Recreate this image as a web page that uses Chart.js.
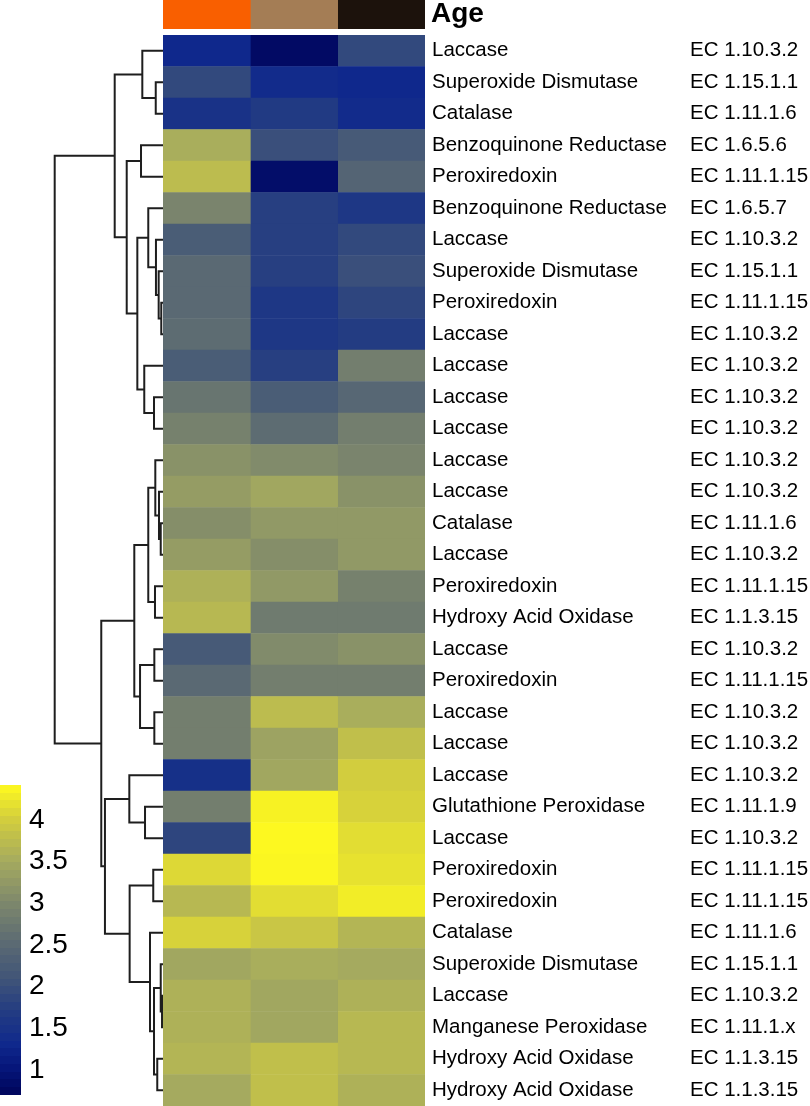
<!DOCTYPE html>
<html>
<head>
<meta charset="utf-8">
<title>Enzyme heatmap</title>
<script src="https://cdn.jsdelivr.net/npm/chart.js@4.4.1/dist/chart.umd.min.js"></script>
<style>
  html, body { margin: 0; padding: 0; background: #fff; }
  #wrap { position: relative; width: 810px; height: 1106px; overflow: hidden; }
  canvas { position: absolute; }
</style>
</head>
<body>
<div id="wrap">
  <canvas id="dendro" width="166" height="1106" style="left:0;top:0"></canvas>
  <canvas id="heat" width="647" height="1071" style="left:163px;top:35px"></canvas>
  <canvas id="age" width="647" height="35" style="left:163px;top:0"></canvas>
  <canvas id="legend" width="100" height="336" style="left:0;top:770px"></canvas>
</div>
<script>
Chart.defaults.font.family = "'Liberation Sans', Arial, sans-serif";
Chart.defaults.color = '#000';
Chart.defaults.animation = false;

// row labels, top to bottom
const enzymes = [
  'Laccase', 'Superoxide Dismutase', 'Catalase', 'Benzoquinone Reductase', 'Peroxiredoxin',
  'Benzoquinone Reductase', 'Laccase', 'Superoxide Dismutase', 'Peroxiredoxin', 'Laccase',
  'Laccase', 'Laccase', 'Laccase', 'Laccase', 'Laccase',
  'Catalase', 'Laccase', 'Peroxiredoxin', 'Hydroxy Acid Oxidase', 'Laccase',
  'Peroxiredoxin', 'Laccase', 'Laccase', 'Laccase', 'Glutathione Peroxidase',
  'Laccase', 'Peroxiredoxin', 'Peroxiredoxin', 'Catalase', 'Superoxide Dismutase',
  'Laccase', 'Manganese Peroxidase', 'Hydroxy Acid Oxidase', 'Hydroxy Acid Oxidase'
];
const ecNumbers = [
  'EC 1.10.3.2', 'EC 1.15.1.1', 'EC 1.11.1.6', 'EC 1.6.5.6', 'EC 1.11.1.15',
  'EC 1.6.5.7', 'EC 1.10.3.2', 'EC 1.15.1.1', 'EC 1.11.1.15', 'EC 1.10.3.2',
  'EC 1.10.3.2', 'EC 1.10.3.2', 'EC 1.10.3.2', 'EC 1.10.3.2', 'EC 1.10.3.2',
  'EC 1.11.1.6', 'EC 1.10.3.2', 'EC 1.11.1.15', 'EC 1.1.3.15', 'EC 1.10.3.2',
  'EC 1.11.1.15', 'EC 1.10.3.2', 'EC 1.10.3.2', 'EC 1.10.3.2', 'EC 1.11.1.9',
  'EC 1.10.3.2', 'EC 1.11.1.15', 'EC 1.11.1.15', 'EC 1.11.1.6', 'EC 1.15.1.1',
  'EC 1.10.3.2', 'EC 1.11.1.x', 'EC 1.1.3.15', 'EC 1.1.3.15'
];

// one array per age column
const col1 = [1.30, 1.90, 1.50, 3.55, 3.75, 2.95, 2.25, 2.50, 2.50, 2.55,
              2.25, 2.70, 2.90, 3.15, 3.30, 3.10, 3.30, 3.60, 3.70, 2.20,
              2.50, 2.85, 2.85, 1.45, 2.85, 1.85, 4.10, 3.70, 4.05, 3.45,
              3.60, 3.60, 3.65, 3.50];
const col2 = [0.80, 1.35, 1.65, 2.00, 0.85, 1.75, 1.75, 1.75, 1.60, 1.60,
              1.75, 2.25, 2.55, 3.05, 3.45, 3.25, 3.10, 3.25, 2.80, 3.05,
              2.85, 3.75, 3.40, 3.45, 4.35, 4.40, 4.38, 4.15, 3.90, 3.55,
              3.45, 3.45, 3.80, 3.80];
const col3 = [1.90, 1.30, 1.35, 2.20, 2.40, 1.60, 1.90, 2.00, 1.85, 1.70,
              2.85, 2.45, 2.85, 2.95, 3.15, 3.25, 3.25, 2.90, 2.80, 3.15,
              2.85, 3.55, 3.80, 4.00, 4.05, 4.15, 4.20, 4.30, 3.65, 3.50,
              3.60, 3.70, 3.70, 3.60];

const ageGroups = ['Age 1', 'Age 2', 'Age 3'];
const ageColors = ['#f95f00', '#a47d55', '#1c120c'];

// colour key
const colorTicks = [1, 1.5, 2, 2.5, 3, 3.5, 4];
const colorMin = 0.7;
const colorMax = 4.42;
const stopValues = [0.70, 1.00, 1.30, 1.70, 2.10, 2.50, 3.00, 3.50, 4.00, 4.42];
const stopColors = [[0, 5, 90], [5, 20, 120], [15, 40, 140], [35, 60, 130], [65, 85, 120],
                    [90, 105, 115], [125, 135, 108], [165, 170, 95], [210, 205, 62], [255, 250, 30]];

// row clustering, hclust style: negative = row (1-based), positive = earlier merge step
const merges = [
  [-9, -10, 0.16], [-8, 1, 0.40], [-7, 2, 0.65], [-6, 3, 1.36],
  [-12, -13, 0.83], [-11, 5, 1.73], [4, 6, 2.37], [-4, -5, 2.03],
  [8, 7, 3.35], [-2, -3, 0.67], [-1, 10, 1.91], [11, 9, 4.46],
  [-16, -17, 0.21], [-15, 13, 0.37], [-14, 14, 0.71], [-18, -19, 0.74],
  [15, 16, 1.36], [-20, -21, 0.80], [-22, -23, 0.80], [18, 19, 2.12],
  [17, 20, 2.65], [-25, -26, 1.66], [-24, 22, 3.11], [-27, -28, 0.90],
  [-31, -32, 0.09], [-30, 25, 0.21], [-33, -34, 0.53], [26, 27, 0.83],
  [-29, 28, 1.20], [24, 29, 3.08], [23, 30, 5.36], [21, 31, 5.70],
  [12, 32, 10.0]
];

function colorFor(v) {
  if (v <= stopValues[0]) return 'rgb(' + stopColors[0].join(',') + ')';
  for (let i = 1; i < stopValues.length; i++) {
    if (v <= stopValues[i]) {
      const t = (v - stopValues[i - 1]) / (stopValues[i] - stopValues[i - 1]);
      const a = stopColors[i - 1], b = stopColors[i];
      return 'rgb(' + a.map((c, k) => Math.round(c + (b[k] - c) * t)).join(',') + ')';
    }
  }
  return 'rgb(' + stopColors[stopColors.length - 1].join(',') + ')';
}

const hiddenAxisGrid = { display: false, drawTicks: false };
const noPlugins = { legend: { display: false }, tooltip: { enabled: false } };

// keep a vertical axis from reserving room for half labels above/below the plot
function fixWidth(w) {
  return (s) => { s.width = w; s.paddingTop = 0; s.paddingBottom = 0; };
}

// dendrogram: turn merges into U shaped segments
const nodeY = [], nodeH = [];
function nodePos(ref) {
  return ref < 0 ? { y: -ref - 1, h: 0 } : { y: nodeY[ref - 1], h: nodeH[ref - 1] };
}
const segs = [];
merges.forEach(([a, b, h], i) => {
  const pa = nodePos(a), pb = nodePos(b);
  segs.push({ x: pa.h, y: pa.y }, { x: h, y: pa.y }, { x: h, y: pb.y }, { x: pb.h, y: pb.y }, { x: null, y: null });
  nodeY[i] = (pa.y + pb.y) / 2;
  nodeH[i] = h;
});

new Chart(document.getElementById('dendro'), {
  type: 'scatter',
  data: {
    datasets: [{
      data: segs, showLine: true, spanGaps: false, clip: false,
      borderColor: '#1e1e1e', borderWidth: 2, borderJoinStyle: 'miter',
      pointRadius: 0, pointHoverRadius: 0
    }]
  },
  options: {
    responsive: false,
    layout: { padding: { top: 35, right: 3, left: 0, bottom: 0 } },
    plugins: noPlugins,
    scales: {
      x: { type: 'linear', display: false, reverse: true, min: 0, max: 15.05 },
      y: { type: 'linear', display: false, reverse: true, min: -0.5, max: 33.5 }
    }
  }
});

// heatmap: one floating bar per cell
const columns = [col1, col2, col3];
new Chart(document.getElementById('heat'), {
  type: 'bar',
  data: {
    labels: enzymes,
    datasets: columns.map((vals, c) => ({
      label: ageGroups[c],
      data: vals.map(() => [c, c + 1]),
      backgroundColor: vals.map(colorFor),
      borderWidth: 0,
      barPercentage: 1,
      categoryPercentage: 1,
      grouped: false
    }))
  },
  options: {
    indexAxis: 'y',
    responsive: false,
    layout: { padding: 0 },
    plugins: noPlugins,
    scales: {
      x: { type: 'linear', display: false, min: 0, max: 3 },
      y: {
        type: 'category', position: 'right', offset: true,
        grid: hiddenAxisGrid, border: { display: false },
        ticks: { autoSkip: false, padding: 7, font: { size: 20.5 }, color: '#000' },
        afterFit: fixWidth(265)
      },
      ec: {
        type: 'category', axis: 'y', labels: ecNumbers, position: 'right', offset: true, weight: 1,
        grid: hiddenAxisGrid, border: { display: false },
        ticks: { autoSkip: false, padding: 0, font: { size: 20.5 }, color: '#000' },
        afterFit: fixWidth(120)
      }
    }
  }
});

// age annotation bar
new Chart(document.getElementById('age'), {
  type: 'bar',
  data: {
    labels: ['Age'],
    datasets: ageGroups.map((g, c) => ({
      label: g,
      data: [[c, c + 1]],
      backgroundColor: ageColors[c],
      borderWidth: 0,
      barPercentage: 1,
      categoryPercentage: 1,
      grouped: false
    }))
  },
  options: {
    indexAxis: 'y',
    responsive: false,
    layout: { padding: { top: 0, bottom: 6, left: 0, right: 0 } },
    plugins: noPlugins,
    scales: {
      x: { type: 'linear', display: false, min: 0, max: 3 },
      y: {
        type: 'category', position: 'right', offset: true,
        grid: hiddenAxisGrid, border: { display: false },
        ticks: { padding: 6, font: { size: 28, weight: 'bold' }, color: '#000' },
        afterFit: fixWidth(385)
      }
    }
  }
});

// colour key
function keyGradient(context) {
  const chart = context.chart;
  if (!chart.chartArea) return null;
  const y = chart.scales.y;
  const g = chart.ctx.createLinearGradient(0, y.getPixelForValue(colorMin), 0, y.getPixelForValue(colorMax));
  const bands = 40;
  for (let k = 0; k < bands; k++) {
    const col = colorFor(colorMin + (k + 0.5) * (colorMax - colorMin) / bands);
    g.addColorStop(k / bands, col);
    g.addColorStop((k + 1) / bands, col);
  }
  return g;
}

new Chart(document.getElementById('legend'), {
  type: 'bar',
  data: {
    labels: [''],
    datasets: [{
      data: [[colorMin, colorMax]],
      backgroundColor: keyGradient,
      borderWidth: 0,
      barPercentage: 1,
      categoryPercentage: 1
    }]
  },
  options: {
    responsive: false,
    layout: { padding: { top: 15, bottom: 11, left: 0, right: 0 } },
    plugins: noPlugins,
    scales: {
      x: { display: false },
      y: {
        type: 'linear', position: 'right', min: colorMin, max: colorMax,
        grid: hiddenAxisGrid, border: { display: false },
        afterBuildTicks: (s) => { s.ticks = colorTicks.map(v => ({ value: v })); },
        ticks: { padding: 8, font: { size: 28 }, color: '#000', callback: (v) => String(v) },
        afterFit: fixWidth(79)
      }
    }
  }
});
</script>
</body>
</html>
